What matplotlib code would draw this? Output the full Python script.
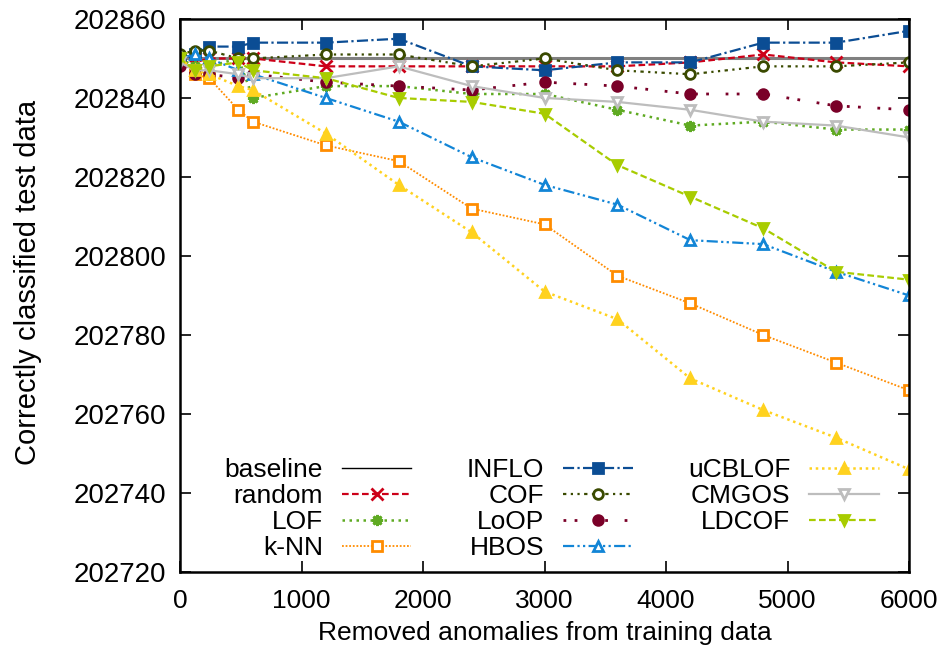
import matplotlib
matplotlib.use("Agg")
import matplotlib.pyplot as plt
from matplotlib.lines import Line2D

# Removed anomalies (x) and correctly classified test data per method
removed = [0, 120, 240, 480, 600, 1200, 1800, 2400, 3000, 3600, 4200, 4800, 5400, 6000]

baseline = [202850] * len(removed)
random_ = [202850, 202849, 202850, 202850, 202850, 202848, 202848, 202848, 202848, 202848, 202849, 202851, 202849, 202848]
lof = [202850, 202848, 202848, 202850, 202840, 202843, 202843, 202841, 202841, 202837, 202833, 202834, 202832, 202832]
knn = [202850, 202846, 202845, 202837, 202834, 202828, 202824, 202812, 202808, 202795, 202788, 202780, 202773, 202766]
inflo = [202850, 202851, 202853, 202853, 202854, 202854, 202855, 202848, 202847, 202849, 202849, 202854, 202854, 202857]
cof = [202851, 202852, 202852, 202850, 202850, 202851, 202851, 202848, 202850, 202847, 202846, 202848, 202848, 202849]
loop = [202848, 202846, 202846, 202845, 202846, 202844, 202843, 202842, 202844, 202843, 202841, 202841, 202838, 202837]
hbos = [202850, 202851, 202850, 202847, 202846, 202840, 202834, 202825, 202818, 202813, 202804, 202803, 202796, 202790]
ucblof = [202850, 202847, 202846, 202843, 202842, 202831, 202818, 202806, 202791, 202784, 202769, 202761, 202754, 202746]
cmgos = [202849, 202847, 202847, 202846, 202845, 202845, 202848, 202843, 202840, 202839, 202837, 202834, 202833, 202830]
ldcof = [202850, 202847, 202848, 202849, 202847, 202845, 202840, 202839, 202836, 202823, 202815, 202807, 202796, 202794]

plt.rcParams['font.family'] = ['Liberation Sans', 'DejaVu Sans']

fig = plt.figure(figsize=(9.44, 6.53), dpi=100)
ax = fig.add_axes([0.1907, 0.124, 0.7723, 0.847])

# (label, data, color, dashes, marker, filled, lw)
series = [
    ('random', random_, '#cc0018', (3, 1.5), 'x', True, 1.6),
    ('LOF', lof, '#5faa22', (1, 1.8), (8, 2, 0), True, 1.8),
    ('k-NN', knn, '#ff8c00', (1, 1), 's', False, 1.3),
    ('INFLO', inflo, '#0b4d94', (5, 1.5, 1, 1.5), 's', True, 1.6),
    ('COF', cof, '#3a4a00', (1.5, 2, 1, 2, 1, 2), 'o', False, 1.6),
    ('LoOP', loop, '#7a0028', (1, 3, 1, 6), 'o', True, 2.0),
    ('HBOS', hbos, '#1285d6', (5, 1.5, 1, 1.5, 1, 1.5), '^', False, 1.6),
    ('uCBLOF', ucblof, '#ffd21f', (1, 1.5), '^', True, 1.8),
    ('CMGOS', cmgos, '#bdbdbd', None, 'v', False, 1.6),
    ('LDCOF', ldcof, '#a8cc00', (3, 1.5), 'v', True, 1.6),
]

ax.plot(removed, baseline, color='#808080', lw=2.2, zorder=1)
handles = [Line2D([], [], color='black', lw=1.0)]
labels = ['baseline']

for name, vals, col, dash, mk, filled, lw in series:
    kw = dict(color=col, lw=lw, marker=mk, markersize=7, markeredgewidth=2,
              markerfacecolor=col if filled else 'white', markeredgecolor=col)
    if mk == 'x' or isinstance(mk, tuple):
        kw['markersize'] = 8
    if dash is not None:
        kw['dashes'] = dash
    line, = ax.plot(removed, vals, **kw)
    handles.append(line)
    labels.append(name)

ax.set_xlim(0, 6000)
ax.set_ylim(202720, 202860)
ax.set_xticks(range(0, 6001, 1000))
ax.set_yticks(range(202720, 202861, 20))
ax.tick_params(direction='in', length=8, width=1.2, top=True, right=True,
               labelsize=20, pad=10)
ax.tick_params(axis='x', labelsize=19, pad=12)
for sp in ax.spines.values():
    sp.set_linewidth(1.8)

ax.set_xlabel('Removed anomalies from training data', fontsize=19, labelpad=6)
ax.set_ylabel('Correctly classified test data', fontsize=21)
ax.yaxis.set_label_coords(-0.19, 0.523)

leg = ax.legend(handles, labels, ncol=3, loc='lower left', bbox_to_anchor=(0.045, 0.0),
                frameon=False, markerfirst=False, handlelength=2.65,
                columnspacing=2.1, labelspacing=0.08, handletextpad=0.7,
                borderaxespad=0.05, prop={'size': 19})
for col in leg._legend_handle_box.get_children():
    col.align = 'right'

fig.savefig('out.png', dpi=100)
